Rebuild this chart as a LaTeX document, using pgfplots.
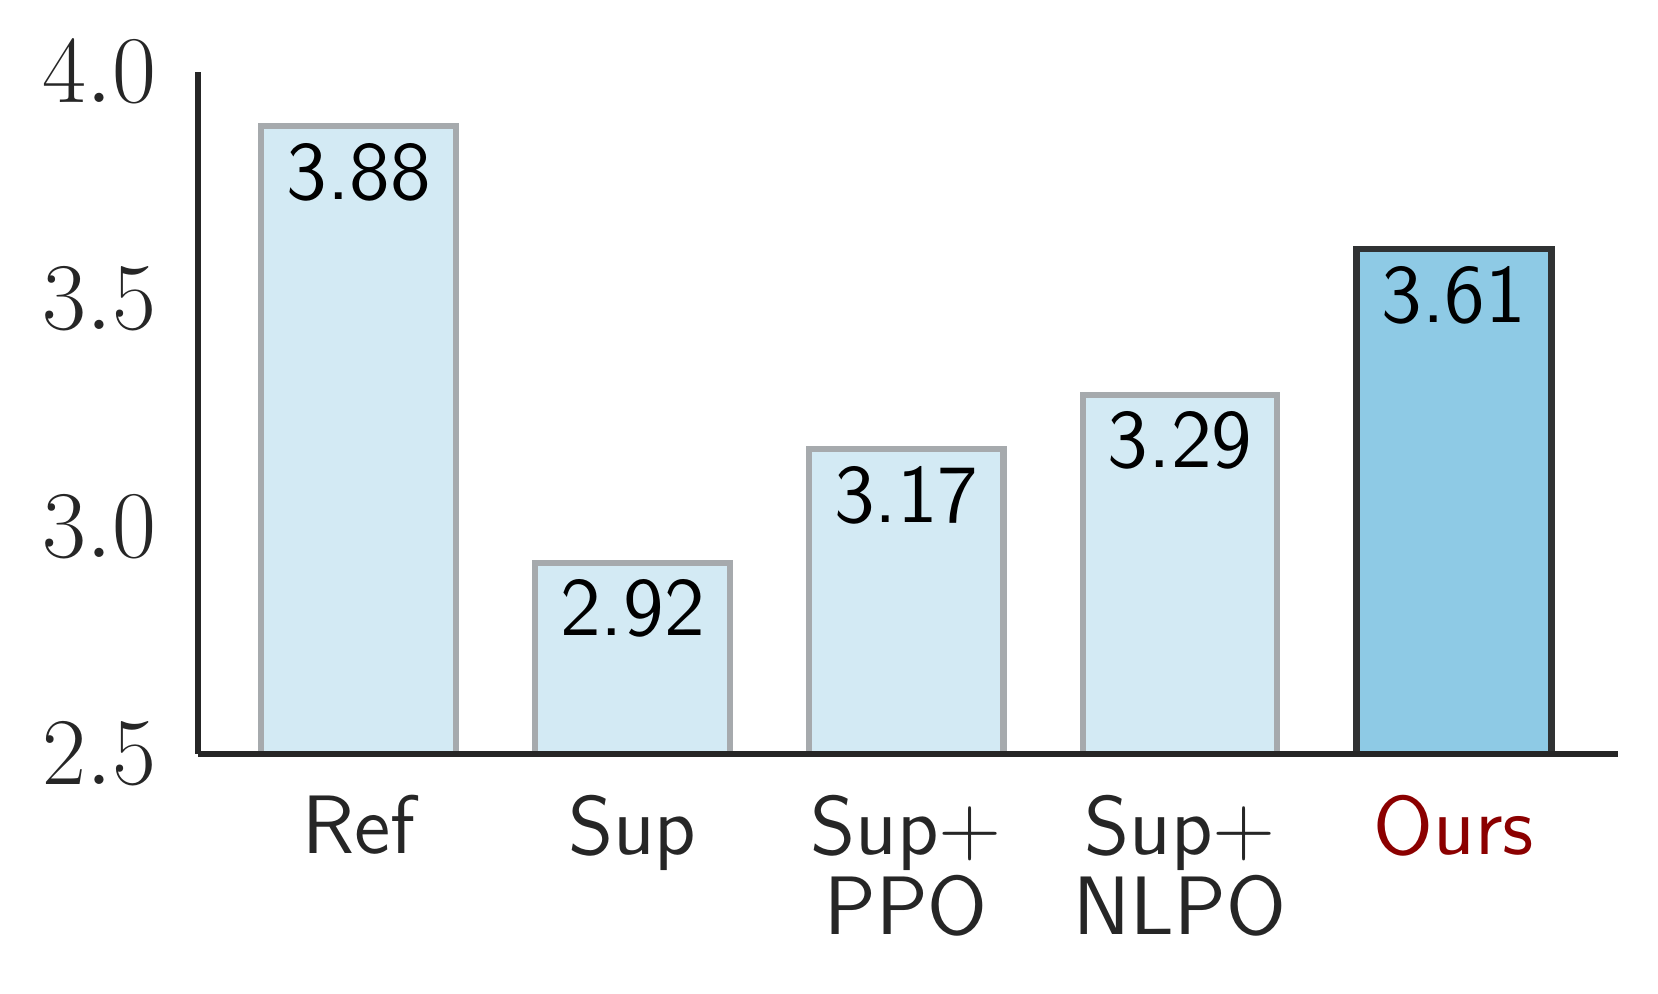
\documentclass[border=0pt]{standalone}
\usepackage{pgfplots}
\pgfplotsset{compat=1.18}
\definecolor{axgray}{HTML}{262626}
\definecolor{lightbar}{HTML}{D3EAF4}
\definecolor{lightedge}{HTML}{A6AAAD}
\definecolor{oursbar}{HTML}{8ECAE5}
\definecolor{oursedge}{HTML}{303233}
\definecolor{oursred}{HTML}{8B0000}
\begin{document}
\begin{tikzpicture}
\useasboundingbox (-35.8pt,-43.3pt) rectangle (264.2pt,136.4pt);
\begin{axis}[
    scale only axis,
    width=257pt, height=123.4pt,
    xmin=-0.587, xmax=4.6,
    ymin=2.5, ymax=4.0,
    axis lines*=left,
    axis on top,
    axis line style={axgray, line width=1pt, -},
    ytick={2.5,3.0,3.5,4.0},
    yticklabel style={/pgf/number format/fixed, /pgf/number format/fixed zerofill,
        /pgf/number format/precision=1, font=\fontsize{18}{20}\selectfont,
        text=axgray, xshift=-4pt},
    xtick={0,1,2,3,4},
    xticklabels={Ref, Sup, {Sup+\\PPO}, {Sup+\\NLPO}, \textcolor{oursred}{Ours}},
    xticklabel style={align=center, font=\sffamily\fontsize{15}{14.4}\selectfont,
        text=axgray, yshift=-4pt},
    major tick length=0pt,
    ybar, bar width=35.2pt, bar shift=0pt,
    point meta=explicit symbolic,
    nodes near coords,
    every node near coord/.append style={anchor=north, inner sep=0pt, yshift=-2.5pt,
        font=\sffamily\fontsize{15}{17}\selectfont, text=black},
    clip=false,
]
\addplot[fill=lightbar, draw=lightedge, line width=1.1pt] coordinates {
    (0,3.88) [3.88] (1,2.92) [2.92] (2,3.17) [3.17] (3,3.29) [3.29]
};
\addplot[fill=oursbar, draw=oursedge, line width=1.2pt] coordinates {
    (4,3.61) [3.61]
};
\end{axis}
\end{tikzpicture}
\end{document}
